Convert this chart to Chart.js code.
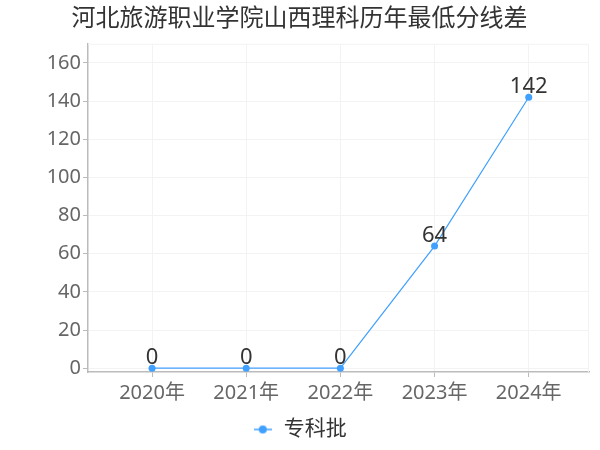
<!DOCTYPE html>
<html>
<head>
<meta charset="utf-8">
<script src="https://cdn.jsdelivr.net/npm/chart.js@4"></script>
<style>
  html, body { margin: 0; padding: 0; background: #fff; }
  #wrap { width: 600px; height: 450px; }
</style>
</head>
<body>
<div id="wrap"><canvas id="graph" width="600" height="450"></canvas></div>
<script>
const blue =      'rgb(64, 160, 255)'
const gridGrey =  'rgb(243, 243, 243)'
const axisGrey =  'rgb(187, 187, 187)'
const textGrey =  'rgb(102, 102, 102)'
const textDark =  'rgb(51, 51, 51)'
const fontFam =   "'Noto Sans', 'Noto Sans CJK SC', sans-serif"

// data
const chartTitle = '河北旅游职业学院山西理科历年最低分线差'
const years = ['2020年', '2021年', '2022年', '2023年', '2024年']
const seriesName = '专科批'
const scoreDiff = [0, 0, 0, 64, 142]
const yTicks = [0, 20, 40, 60, 80, 100, 120, 140, 160]

// legend icon: short line with a dot in the middle
function legendIcon() {
    const c = document.createElement('canvas')
    c.width = 18; c.height = 10
    const g = c.getContext('2d')
    g.strokeStyle = blue; g.lineWidth = 1.5
    g.beginPath(); g.moveTo(0, 5); g.lineTo(18, 5); g.stroke()
    g.fillStyle = blue
    g.beginPath(); g.arc(9, 5, 4, 0, Math.PI * 2); g.fill()
    return c
}

// value labels above every point
const valueLabels = {
    id: 'valueLabels',
    afterDatasetsDraw(chart) {
        const ctx = chart.ctx
        ctx.save()
        ctx.font = '22px ' + fontFam
        ctx.fillStyle = textDark
        ctx.textAlign = 'center'
        ctx.textBaseline = 'alphabetic'
        chart.getDatasetMeta(0).data.forEach((pt, i) => {
            ctx.fillText(String(scoreDiff[i]), pt.x, pt.y - 4)
        })
        ctx.restore()
    }
}

// faint frame on the top and right of the plot
const plotFrame = {
    id: 'plotFrame',
    beforeDatasetsDraw(chart) {
        const a = chart.chartArea, ctx = chart.ctx
        ctx.save()
        ctx.strokeStyle = gridGrey
        ctx.lineWidth = 1
        ctx.beginPath()
        ctx.moveTo(a.left, a.top + 0.5); ctx.lineTo(a.right - 0.5, a.top + 0.5); ctx.lineTo(a.right - 0.5, a.bottom)
        ctx.stroke()
        ctx.restore()
    }
}

const ctx = document.getElementById('graph')
new Chart(ctx, {
    type: 'line',
    data: {
        datasets: [{
            label: seriesName,
            data: scoreDiff.map((v, i) => ({x: i, y: v})),
            borderColor: blue,
            backgroundColor: blue,
            borderWidth: 1.2,
            pointRadius: 3.5,
            pointBorderWidth: 0,
            tension: 0
        }]
    },
    options: {
        responsive: false,
        animation: false,
        layout: { padding: { left: 10, right: 11, top: 0, bottom: 0 } },
        plugins: {
            title: {
                display: true,
                text: chartTitle,
                color: textDark,
                font: { family: fontFam, size: 24, weight: 'normal' },
                padding: { top: 5, bottom: 10 }
            },
            legend: {
                position: 'bottom',
                labels: {
                    usePointStyle: true,
                    generateLabels: () => [{
                        text: seriesName,
                        pointStyle: legendIcon(),
                        fontColor: textDark,
                        lineWidth: 0,
                        datasetIndex: 0
                    }],
                    color: textDark,
                    font: { family: fontFam, size: 21 },
                    padding: 5
                }
            },
            tooltip: { enabled: false }
        },
        scales: {
            x: {
                type: 'linear',
                min: -0.68,
                max: 4.64,
                afterBuildTicks: s => { s.ticks = years.map((y, i) => ({value: i})) },
                afterFit: s => { s.height = 42 },
                ticks: {
                    color: textGrey,
                    font: { family: fontFam, size: 20 },
                    padding: 4,
                    maxRotation: 0,
                    callback: v => years[v]
                },
                grid: { color: gridGrey, tickColor: axisGrey, tickLength: 5, drawOnChartArea: true },
                border: { color: axisGrey, width: 1.5 }
            },
            y: {
                type: 'linear',
                min: -2,
                max: 170,
                afterBuildTicks: s => { s.ticks = yTicks.map(v => ({value: v})) },
                afterFit: s => { s.width = 78 },
                ticks: {
                    color: textGrey,
                    font: { family: fontFam, size: 20 },
                    padding: 2
                },
                grid: { color: gridGrey, tickColor: axisGrey, tickLength: 5 },
                border: { color: axisGrey, width: 1.5 }
            }
        }
    },
    plugins: [valueLabels, plotFrame]
})
</script>
</body>
</html>
